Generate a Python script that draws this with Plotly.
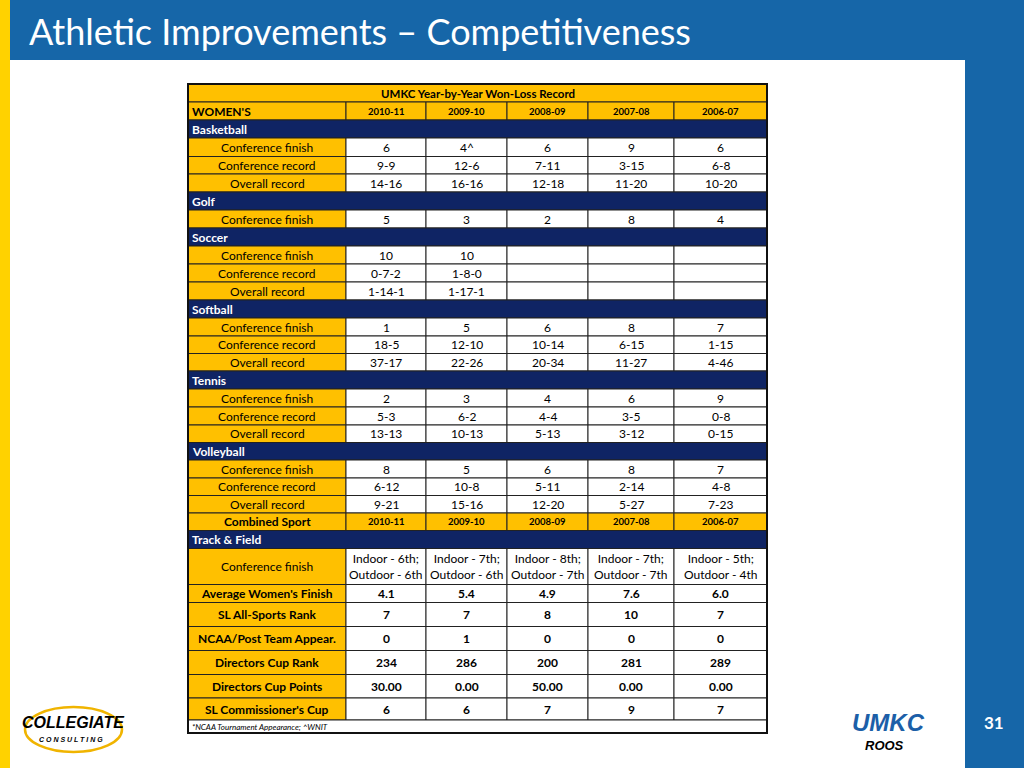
import plotly.graph_objects as go

title = "Athletic Improvements – Competitiveness"
table_title = "UMKC Year-by-Year Won-Loss Record"
years = ["2010-11", "2009-10", "2008-09", "2007-08", "2006-07"]

# (kind, label, values)
rows = [
    ("header", "WOMEN'S", years),
    ("section", "Basketball", None),
    ("data", "Conference finish", ["6", "4^", "6", "9", "6"]),
    ("data", "Conference record", ["9-9", "12-6", "7-11", "3-15", "6-8"]),
    ("data", "Overall record", ["14-16", "16-16", "12-18", "11-20", "10-20"]),
    ("section", "Golf", None),
    ("data", "Conference finish", ["5", "3", "2", "8", "4"]),
    ("section", "Soccer", None),
    ("data", "Conference finish", ["10", "10", "", "", ""]),
    ("data", "Conference record", ["0-7-2", "1-8-0", "", "", ""]),
    ("data", "Overall record", ["1-14-1", "1-17-1", "", "", ""]),
    ("section", "Softball", None),
    ("data", "Conference finish", ["1", "5", "6", "8", "7"]),
    ("data", "Conference record", ["18-5", "12-10", "10-14", "6-15", "1-15"]),
    ("data", "Overall record", ["37-17", "22-26", "20-34", "11-27", "4-46"]),
    ("section", "Tennis", None),
    ("data", "Conference finish", ["2", "3", "4", "6", "9"]),
    ("data", "Conference record", ["5-3", "6-2", "4-4", "3-5", "0-8"]),
    ("data", "Overall record", ["13-13", "10-13", "5-13", "3-12", "0-15"]),
    ("section", "Volleyball", None),
    ("data", "Conference finish", ["8", "5", "6", "8", "7"]),
    ("data", "Conference record", ["6-12", "10-8", "5-11", "2-14", "4-8"]),
    ("data", "Overall record", ["9-21", "15-16", "12-20", "5-27", "7-23"]),
    ("header2", "Combined Sport", years),
    ("section", "Track & Field", None),
    ("data2", "Conference finish", ["Indoor - 6th;<br>Outdoor - 6th", "Indoor - 7th;<br>Outdoor - 6th",
                                    "Indoor - 8th;<br>Outdoor - 7th", "Indoor - 7th;<br>Outdoor - 7th",
                                    "Indoor - 5th;<br>Outdoor - 4th"]),
    ("bold", "Average Women's Finish", ["4.1", "5.4", "4.9", "7.6", "6.0"]),
    ("bold", "SL All-Sports Rank", ["7", "7", "8", "10", "7"]),
    ("bold", "NCAA/Post Team Appear.", ["0", "1", "0", "0", "0"]),
    ("bold", "Directors Cup Rank", ["234", "286", "200", "281", "289"]),
    ("bold", "Directors Cup Points", ["30.00", "0.00", "50.00", "0.00", "0.00"]),
    ("bold", "SL Commissioner's Cup", ["6", "6", "7", "9", "7"]),
]
row_heights = [18, 18, 18.5, 17.5, 18, 18, 18, 18, 18, 18, 18, 18, 18, 17.5, 17.5, 18, 18, 18, 17.5,
               17.5, 18, 17.5, 17.5, 17.5, 18, 36, 18, 24, 24, 24, 23.5, 22]
footnote = "*NCAA Tournament Appearance; ^WNIT"

col_x = [188, 346, 426, 507, 588, 674, 767]
Y0 = 84

YEL = "#FFC000"
NAVY = "#0F2464"
BLUE = "#1666A8"
FONT = "Lato"

shapes, ann = [], []

def rect(x0, y0, x1, y1, fill, line="#222", lw=1):
    shapes.append(dict(type="rect", x0=x0, x1=x1, y0=y0, y1=y1, fillcolor=fill,
                       line=dict(color=line, width=lw), layer="below"))

def text(x, y, t, size=11, color="#000", bold=False, xanchor="center", italic=False, family=FONT):
    if bold:
        t = "<b>" + t + "</b>"
    if italic:
        t = "<i>" + t + "</i>"
    ann.append(dict(x=x, y=y, text=t, showarrow=False, xanchor=xanchor, yanchor="middle",
                    font=dict(size=size, color=color, family=family)))

# slide decorations
rect(0, 0, 10, 768, "#FFD200", line="#FFD200", lw=0)
rect(10, 0, 965, 60, BLUE, line=BLUE, lw=0)
rect(965, 0, 1024, 768, BLUE, line=BLUE, lw=0)
text(27, 31, title, size=36, color="white", xanchor="left")
text(994, 722, "31", size=17, color="white", bold=True)

# table title
rect(col_x[0], Y0, col_x[-1], Y0 + 18, YEL)
text((col_x[0] + col_x[-1]) / 2, Y0 + 9, table_title, size=11.5, bold=True)

y = Y0 + 18
for (kind, label, vals), h in zip(rows, row_heights):
    yc = y + h / 2
    if kind == "section":
        rect(col_x[0], y, col_x[-1], y + h, NAVY)
        text(col_x[0] + 2, yc, label, size=12, color="white", bold=True, xanchor="left")
    else:
        rect(col_x[0], y, col_x[1], y + h, YEL)
        if kind == "header":
            text(col_x[0] + 2, yc, label, size=12, bold=True, xanchor="left")
        else:
            text((col_x[0] + col_x[1]) / 2, yc, label, size=12, bold=kind in ("bold", "header2"))
        for i, v in enumerate(vals):
            hdr = kind in ("header", "header2")
            rect(col_x[i + 1], y, col_x[i + 2], y + h, YEL if hdr else "white")
            text((col_x[i + 1] + col_x[i + 2]) / 2, yc, v,
                 size=9.5 if hdr else 12, bold=hdr or kind == "bold")
    y += h

rect(col_x[0], y, col_x[-1], y + 13, "white")
text(col_x[0] + 2, y + 6.5, footnote, size=8, italic=True, xanchor="left")
# outer border
shapes.append(dict(type="rect", x0=col_x[0], x1=col_x[-1], y0=Y0, y1=y + 13,
                   line=dict(color="#111", width=2)))

# logos (text approximations)
shapes.append(dict(type="circle", x0=25, x1=122, y0=707, y1=752, line=dict(color="#F0B400", width=2.5)))
text(73, 722, "COLLEGIATE", size=16, bold=True, italic=True, family="Liberation Sans")
text(71, 739, "C O N S U L T I N G", size=7, bold=True, italic=True, family="Liberation Sans")
text(888, 722, "UMKC", size=24, color="#1C5FA8", bold=True, italic=True, family="Liberation Sans")
text(884, 745, "ROOS", size=13, bold=True, italic=True, family="Liberation Sans")

fig = go.Figure(go.Scatter(x=[0], y=[0], mode="markers", marker=dict(opacity=0), hoverinfo="skip"))
fig.update_layout(width=1024, height=768, margin=dict(l=0, r=0, t=0, b=0),
                  paper_bgcolor="white", plot_bgcolor="white", showlegend=False,
                  shapes=shapes, annotations=ann,
                  xaxis=dict(range=[0, 1024], visible=False, fixedrange=True),
                  yaxis=dict(range=[768, 0], visible=False, fixedrange=True))
fig.write_html("out.html", config={"displayModeBar": False},
               post_script="document.body.style.margin='0';document.body.style.overflow='hidden';")
